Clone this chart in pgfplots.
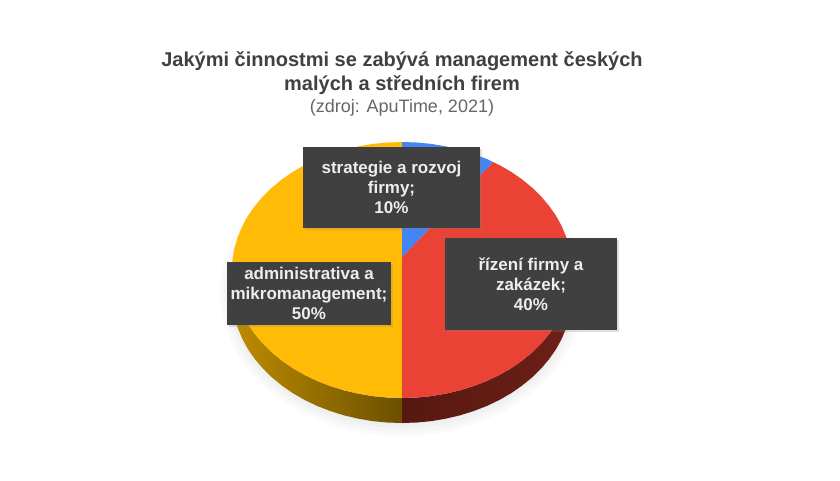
\documentclass[border=0pt]{standalone}
\usepackage{fontspec}
\setmainfont{Liberation Sans}
\usepackage{pgfplots}
\pgfplotsset{compat=1.18}
\usetikzlibrary{shadows}
\definecolor{gblue}{HTML}{4285F4}
\definecolor{gred}{HTML}{EA4335}
\definecolor{gyellow}{HTML}{FFBB05}
\definecolor{box}{HTML}{404040}
\definecolor{boxtext}{HTML}{EDEDED}
\definecolor{sideA}{HTML}{BE8C00}
\definecolor{sideB}{HTML}{6B5000}
\definecolor{sideC}{HTML}{561811}
\definecolor{sideD}{HTML}{6E2017}
\tikzset{lab/.style={fill=box, text=boxtext, align=center, inner sep=0pt,
  font=\fontsize{17}{20}\selectfont\bfseries,
  drop shadow={opacity=.25, shadow xshift=2pt, shadow yshift=-2pt}}}
\begin{document}
\begin{tikzpicture}
\useasboundingbox (0,0) rectangle (840pt,480pt);
\begin{axis}[
  at={(0,0)}, anchor=south west,
  scale only axis, width=840pt, height=480pt,
  xmin=0, xmax=840, ymin=0, ymax=480, y dir=reverse,
  hide axis, clip=false
]
% soft shadow under the pie
\fill[black, opacity=.02] (axis cs:402,292) ellipse [x radius=170pt, y radius=132pt];
\fill[black, opacity=.02] (axis cs:402,292) ellipse [x radius=174pt, y radius=136pt];
\fill[black, opacity=.02] (axis cs:402,292) ellipse [x radius=178pt, y radius=140pt];
\fill[black, opacity=.02] (axis cs:402,292) ellipse [x radius=182pt, y radius=144pt];
% sides
\addplot[draw=none, left color=sideA, right color=sideB, forget plot] coordinates {
  (232,270) (232.6,281.2) (234.6,292.2) (237.8,303.1) (242.3,313.8) (247.9,324.1) (254.8,334)
  (262.7,343.4) (271.8,352.3) (281.8,360.5) (292.7,368.1) (304.5,374.9) (317,380.9) (330.2,386)
  (343.9,390.3) (358,393.6) (372.5,396.1) (387.2,397.5) (402,398)
  (402,423) (387.2,422.5) (372.5,421.1) (358,418.6) (343.9,415.3) (330.2,411) (317,405.9)
  (304.5,399.9) (292.7,393.1) (281.8,385.5) (271.8,377.3) (262.7,368.4) (254.8,359) (247.9,349.1)
  (242.3,338.8) (237.8,328.1) (234.6,317.2) (232.6,306.2) (232,295)
};
\addplot[draw=none, left color=sideC, right color=sideD, forget plot] coordinates {
  (572,270) (571.4,281.2) (569.4,292.2) (566.2,303.1) (561.7,313.8) (556.1,324.1) (549.2,334)
  (541.3,343.4) (532.2,352.3) (522.2,360.5) (511.3,368.1) (499.5,374.9) (487,380.9) (473.8,386)
  (460.1,390.3) (446,393.6) (431.5,396.1) (416.8,397.5) (402,398)
  (402,423) (416.8,422.5) (431.5,421.1) (446,418.6) (460.1,415.3) (473.8,411) (487,405.9)
  (499.5,399.9) (511.3,393.1) (522.2,385.5) (532.2,377.3) (541.3,368.4) (549.2,359) (556.1,349.1)
  (561.7,338.8) (566.2,328.1) (569.4,317.2) (571.4,306.2) (572,295)
};
% administrativa a mikromanagement, 50 %
\addplot[draw=none, fill=gyellow, forget plot] coordinates {
  (402,257) (402,398) (387.2,397.5) (372.5,396.1) (358,393.6) (343.9,390.3) (330.2,386) (317,380.9)
  (304.5,374.9) (292.7,368.1) (281.8,360.5) (271.8,352.3) (262.7,343.4) (254.8,334) (247.9,324.1)
  (242.3,313.8) (237.8,303.1) (234.6,292.2) (232.6,281.2) (232,270)
  (232.6,258.8) (234.6,247.8) (237.8,236.9) (242.3,226.2) (247.9,215.9) (254.8,206) (262.7,196.6)
  (271.8,187.7) (281.8,179.5) (292.7,171.9) (304.5,165.1) (317,159.1) (330.2,154) (343.9,149.7)
  (358,146.4) (372.5,143.9) (387.2,142.5) (402,142)
};
% rizeni firmy a zakazek, 40 %
\addplot[draw=none, fill=gred, forget plot] coordinates {
  (402,257) (493,162) (499.5,165.1) (511.3,171.9) (522.2,179.5) (532.2,187.7) (541.3,196.6)
  (549.2,206) (556.1,215.9) (561.7,226.2) (566.2,236.9) (569.4,247.8) (571.4,258.8) (572,270)
  (571.4,281.2) (569.4,292.2) (566.2,303.1) (561.7,313.8) (556.1,324.1) (549.2,334) (541.3,343.4)
  (532.2,352.3) (522.2,360.5) (511.3,368.1) (499.5,374.9) (487,380.9) (473.8,386) (460.1,390.3)
  (446,393.6) (431.5,396.1) (416.8,397.5) (402,398)
};
% strategie a rozvoj firmy, 10 %
\addplot[draw=none, fill=gblue, forget plot] coordinates {
  (402,257) (402,142) (416.8,142.5) (431.5,143.9) (446,146.4) (460.1,149.7) (473.8,154) (487,159.1) (493,162)
};
% labels
\node[lab, minimum width=177pt, minimum height=81pt] at (axis cs:391.5,187.5) {strategie a rozvoj\\firmy;\\10\%};
\node[lab, minimum width=172pt, minimum height=92pt] at (axis cs:531,284) {řízení firmy a\\zakázek;\\40\%};
\node[lab, minimum width=164pt, minimum height=63pt] at (axis cs:309,293.5) {administrativa a\\mikromanagement;\\50\%};
% title
\node[text=box, align=center, font=\fontsize{20}{24}\selectfont\bfseries] at (axis cs:402,73) {Jakými činnostmi se zabývá management českých\\malých a středních firem};
\node[text=box!80!white, font=\fontsize{18}{20}\selectfont] at (axis cs:402,108) {(zdroj: ApuTime, 2021)};
\end{axis}
\end{tikzpicture}
\end{document}
